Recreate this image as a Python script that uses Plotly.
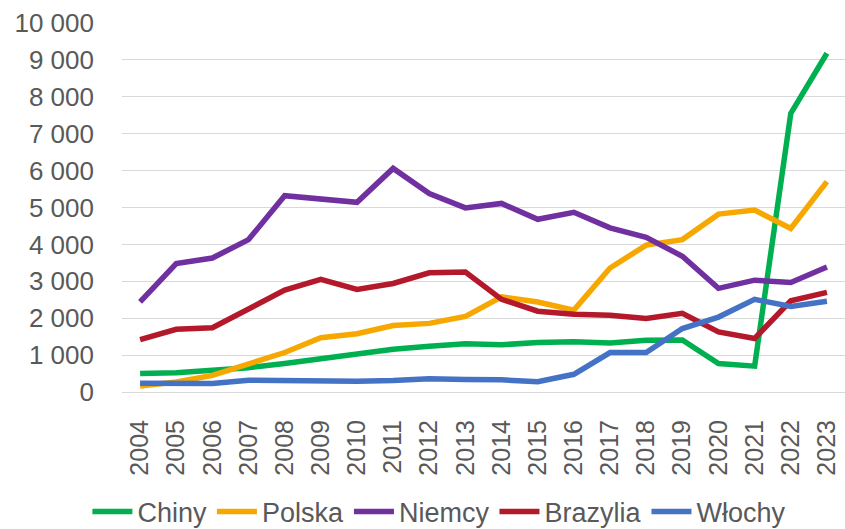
import plotly.graph_objects as go

years = [str(y) for y in range(2004, 2024)]

chiny = [500, 520, 590, 660, 770, 910, 1040, 1160, 1240, 1310, 1280, 1340, 1360, 1330, 1400, 1410, 770, 700, 7550, 9180]
polska = [160, 270, 450, 770, 1070, 1470, 1580, 1800, 1860, 2050, 2580, 2440, 2220, 3360, 3980, 4130, 4820, 4930, 4430, 5700]
niemcy = [2440, 3480, 3630, 4130, 5320, 5230, 5140, 6060, 5380, 4990, 5110, 4680, 4870, 4450, 4190, 3680, 2810, 3030, 2970, 3390]
brazylia = [1420, 1700, 1740, 2260, 2760, 3050, 2780, 2940, 3230, 3250, 2510, 2190, 2110, 2080, 1990, 2130, 1630, 1450, 2470, 2700]
wlochy = [240, 240, 230, 320, 310, 290, 290, 310, 360, 340, 330, 280, 480, 1070, 1070, 1720, 2030, 2510, 2320, 2460]

series_names = ["Chiny", "Polska", "Niemcy", "Brazylia", "Włochy"]
series_values = [chiny, polska, niemcy, brazylia, wlochy]
series_colors = ["#00B050", "#F7A800", "#7030A0", "#B4182B", "#4472C4"]

y_tickvals = list(range(0, 10001, 1000))
y_ticktext = ["0", "1 000", "2 000", "3 000", "4 000", "5 000", "6 000", "7 000", "8 000", "9 000", "10 000"]

font_family = "Liberation Sans, Arial, sans-serif"
grey = "#595959"

fig = go.Figure()
for name, vals, col in zip(series_names, series_values, series_colors):
    fig.add_trace(go.Scatter(
        x=years, y=vals, mode="lines", name=name,
        line=dict(color=col, width=5.5),
    ))

fig.update_layout(
    width=845, height=529,
    margin=dict(l=122, r=0, t=23, b=137, autoexpand=False),
    paper_bgcolor="white", plot_bgcolor="white",
    font=dict(family=font_family, color=grey, size=25),
    showlegend=True,
    legend=dict(
        orientation="h",
        xref="container", yref="paper",
        x=0.52, xanchor="center",
        y=-0.325, yanchor="middle",
        font=dict(size=27, color=grey, family=font_family),
        itemwidth=40,
        tracegroupgap=0,
    ),
    xaxis=dict(
        type="category",
        range=[-0.5, 19.5],
        tickangle=-90,
        showgrid=False,
        showline=False,
        zeroline=False,
        ticks="",
        automargin=False,
        ticklabelstandoff=22,
        tickfont=dict(size=25, color=grey),
    ),
    yaxis=dict(
        range=[0, 10000],
        tickvals=y_tickvals,
        ticktext=y_ticktext,
        showgrid=True,
        gridcolor="#D9D9D9",
        gridwidth=1.3,
        zeroline=True,
        zerolinecolor="#D9D9D9",
        zerolinewidth=1.3,
        showline=False,
        ticks="",
        automargin=False,
        ticklabelstandoff=27,
        tickfont=dict(size=26, color=grey),
    ),
)

fig.write_html(
    "out.html",
    config={"displayModeBar": False},
    post_script="document.body.style.margin='0';document.body.style.overflow='hidden';",
)
